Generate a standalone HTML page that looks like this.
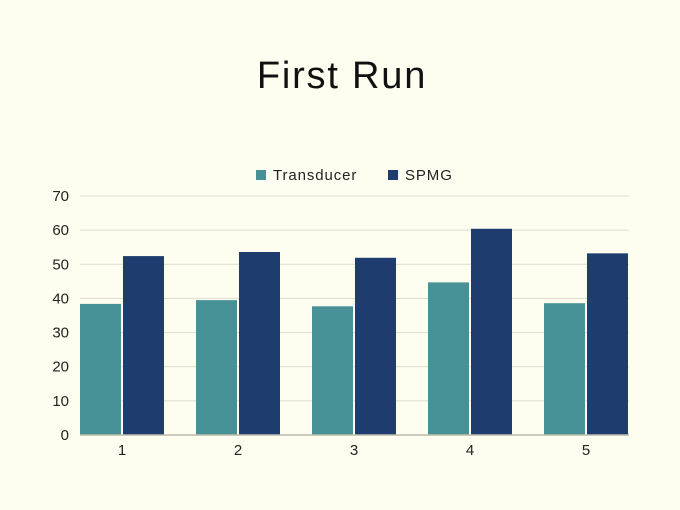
<!DOCTYPE html>
<html><head><meta charset="utf-8"><style>
body{margin:0;background:#fefef0;}
svg{display:block;font-family:"Liberation Sans",sans-serif;}
</style></head><body>
<svg id="c" width="680" height="510">
<rect width="680" height="510" fill="#fefef0"/>
<text x="342" y="88" text-anchor="middle" font-size="38" letter-spacing="1.8" fill="#111">First Run</text>
<g>
<rect x="256" y="170" width="10" height="10" fill="#469296"/>
<text x="273" y="180" font-size="15" letter-spacing="0.9" fill="#222">Transducer</text>
<rect x="388" y="170" width="10" height="10" fill="#1e3d6e"/>
<text x="405" y="180" font-size="15" letter-spacing="0.9" fill="#222">SPMG</text>
</g>
<g id="grid"></g><g id="bars"></g><g id="axes"></g>
</svg>
<script>
const categories=["1","2","3","4","5"];
const transducer=[38.4,39.5,37.7,44.7,38.6];
const spmg=[52.4,53.6,51.9,60.4,53.2];
const yTicks=[0,10,20,30,40,50,60,70];
const NS="http://www.w3.org/2000/svg";
const y=v=>435-v*239/70;
const band=i=>64+116*i;
function mk(t,a,p){const e=document.createElementNS(NS,t);for(const k in a)e.setAttribute(k,a[k]);p.appendChild(e);return e;}
const g=document.getElementById('grid'),b=document.getElementById('bars'),ax=document.getElementById('axes');
yTicks.forEach(v=>{
 const l=mk('line',{x1:80,x2:629,y1:y(v),y2:y(v),stroke:'#dcdccc','stroke-width':1},g);
 
 
 const t=mk('text',{x:69,y:y(v)+5,'text-anchor':'end','font-size':15,fill:'#222'},ax);
 t.textContent=v;
 
 
});
categories.forEach((c,i)=>{
 const x0=band(i)+16;
 const r1=mk('rect',{x:x0,y:y(transducer[i]),width:41,height:y(0)-y(transducer[i]),fill:'#469296'},b);
 
 
 const r2=mk('rect',{x:x0+43,y:y(spmg[i]),width:41,height:y(0)-y(spmg[i]),fill:'#1e3d6e'},b);
 
 
 const t=mk('text',{x:band(i)+58,y:455,'text-anchor':'middle','font-size':15,fill:'#222'},ax);
 t.textContent=c;
 
 
});
const base=mk('line',{x1:80,x2:629,y1:435,y2:435,stroke:'#bbbbaa','stroke-width':1.5},ax);


</script>
</body></html>
